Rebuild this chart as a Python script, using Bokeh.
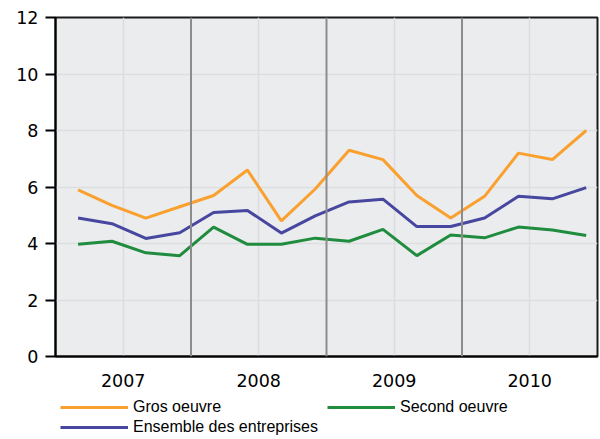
from bokeh.plotting import figure
from bokeh.layouts import column
from bokeh.models import FixedTicker, Span, Legend, LegendItem, ColumnDataSource
from bokeh.embed import file_html
from bokeh.resources import INLINE

years = [2007, 2008, 2009, 2010]
quarters = ["T1", "T2", "T3", "T4"]
# each quarterly point sits at month 2, 5, 8, 11 of its year
quarter_month = [2, 5, 8, 11]

series_names = ["Gros oeuvre", "Second oeuvre", "Ensemble des entreprises"]
gros_oeuvre = [5.9, 5.35, 4.9, 5.3, 5.7, 6.6, 4.8, 5.93, 7.3, 6.97, 5.7, 4.9, 5.67, 7.2, 6.97, 8.0]
second_oeuvre = [3.97, 4.08, 3.67, 3.57, 4.58, 3.97, 3.97, 4.19, 4.08, 4.5, 3.57, 4.3, 4.2, 4.58, 4.48, 4.28]
ensemble = [4.9, 4.7, 4.18, 4.38, 5.1, 5.17, 4.37, 4.98, 5.47, 5.57, 4.6, 4.6, 4.9, 5.67, 5.58, 5.98]

colors = ["#F9A02E", "#1F8C3E", "#4747A0"]

x = [y + m / 12 for y in years for m in quarter_month]

src = ColumnDataSource(dict(x=x, gros=gros_oeuvre, second=second_oeuvre, ens=ensemble))

p = figure(frame_width=542, frame_height=339, x_range=(2007, 2011), y_range=(0, 12),
           output_backend="svg", toolbar_location=None,
           min_border_left=55, min_border_right=3, min_border_top=17, min_border_bottom=35,
           background_fill_color="#EBECEE", border_fill_color="white")

p.outline_line_color = "#1a1a1a"
p.outline_line_width = 2

# grids
p.xaxis.ticker = FixedTicker(ticks=[y + 0.5 for y in years])
p.xaxis.major_label_overrides = {y + 0.5: str(y) for y in years}
p.yaxis.ticker = FixedTicker(ticks=[0, 2, 4, 6, 8, 10, 12])
p.xgrid.grid_line_color = "#DCDDE0"
p.ygrid.grid_line_color = "#DCDDE0"
p.xgrid.grid_line_width = 1.5
p.ygrid.grid_line_width = 1.5

for b in years[1:]:
    p.add_layout(Span(location=b, dimension="height", line_color="#8C8C8C", line_width=2))

# axes
for ax in (p.xaxis[0], p.yaxis[0]):
    ax.axis_line_color = "black"
    ax.axis_line_width = 2
    ax.major_label_text_font = "DejaVu Sans"
    ax.major_label_text_font_size = "17.5px"
    ax.major_label_text_color = "black"
    ax.minor_tick_line_color = None

p.xaxis.major_tick_line_color = None
p.xaxis.major_label_standoff = 11
p.yaxis.major_tick_line_color = "black"
p.yaxis.major_tick_line_width = 2
p.yaxis.major_tick_in = 0
p.yaxis.major_tick_out = 10
p.yaxis.major_label_standoff = 7

p.line("x", "gros", source=src, line_color=colors[0], line_width=3)
p.line("x", "second", source=src, line_color=colors[1], line_width=3)
p.line("x", "ens", source=src, line_color=colors[2], line_width=3)

# legend strip below the chart (its glyphs are legend-only stand-ins, no data)
lg = figure(width=600, height=48, x_range=(0, 1), y_range=(0, 1),
            output_backend="svg", toolbar_location=None,
            min_border_left=0, min_border_right=0, min_border_top=0, min_border_bottom=0,
            border_fill_color="white", background_fill_color="white")
lg.axis.visible = False
lg.grid.visible = False
lg.outline_line_color = None
items = []
for name, c in zip(series_names, colors):
    r = lg.line(x=[float("nan")], y=[float("nan")], line_color=c, line_width=3)
    items.append(LegendItem(label=name, renderers=[r]))

legend = Legend(items=items, orientation="horizontal", ncols=2, location=(5, 3))
legend.margin = 0
legend.padding = 0
legend.border_line_color = None
legend.background_fill_alpha = 0
legend.glyph_width = 68
legend.glyph_height = 18
legend.label_height = 18
legend.label_width = 192
legend.label_standoff = 5
legend.spacing = 2
legend.label_text_font = "Liberation Sans"
legend.label_text_font_size = "16px"
legend.label_text_color = "black"
lg.add_layout(legend)

layout = column(p, lg, spacing=0)

open("out.html", "w").write(file_html(layout, INLINE))
